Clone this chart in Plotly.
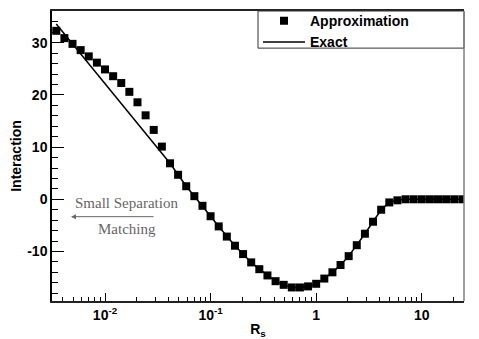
import plotly.graph_objects as go

# separation R_s, log spaced (13 points per decade)
r_s = [
    0.003455, 0.004125, 0.004924, 0.005878, 0.007017, 0.008377,
    0.01, 0.01194, 0.01425, 0.01701, 0.02031, 0.02424, 0.02894, 0.03455,
    0.04125, 0.04924, 0.05878, 0.07017, 0.08377,
    0.1, 0.1194, 0.1425, 0.1701, 0.2031, 0.2424, 0.2894, 0.3455,
    0.4125, 0.4924, 0.5878, 0.7017, 0.8377,
    1.0, 1.194, 1.425, 1.701, 2.031, 2.424, 2.894, 3.455,
    4.125, 4.924, 5.878, 7.017, 8.377,
    10.0, 11.94, 14.25, 17.01, 20.31, 24.24,
]

approximation = [
    32.3, 30.9, 29.8, 28.6, 27.4, 26.2,
    24.9, 23.6, 22.3, 20.6, 18.6, 16.1, 13.3, 10.1,
    6.9, 4.7, 2.5, 0.6, -1.25,
    -3.25, -5.2, -7.15, -8.9, -10.5, -12.1, -13.4, -14.6,
    -15.7, -16.4, -16.9, -16.9, -16.7,
    -16.2, -15.2, -14.0, -12.6, -10.9, -8.8, -6.6, -4.3,
    -2.0, -0.6, -0.2, 0.0, 0.0,
    0.0, 0.0, 0.0, 0.0, 0.0, 0.0,
]

exact = [
    33.6, 31.7, 29.8, 27.9, 26.0, 24.1,
    22.2, 20.3, 18.4, 16.4, 14.5, 12.6, 10.7, 8.8,
    6.9, 4.7, 2.5, 0.6, -1.25,
    -3.25, -5.2, -7.15, -8.9, -10.5, -12.1, -13.4, -14.6,
    -15.7, -16.4, -16.9, -16.9, -16.7,
    -16.2, -15.2, -14.0, -12.6, -10.9, -8.8, -6.6, -4.3,
    -2.0, -0.6, -0.2, 0.0, 0.0,
    0.0, 0.0, 0.0, 0.0, 0.0, 0.0,
]

x_tickvals = [0.01, 0.1, 1, 10]
x_ticktext = ["10<sup>-2</sup>", "10<sup>-1</sup>", "1", "10"]
x_minor = [m * 10.0 ** e for e in (-3, -2, -1, 0, 1) for m in range(2, 10)]
y_tickvals = [-10, 0, 10, 20, 30]
y_ticktext = ["-10", "0", "10", "20", "30"]
y_minor = list(range(-18, 36, 2))

SANS = "Liberation Sans"
bold = dict(family=SANS, size=14, weight="bold", color="black")

fig = go.Figure()
fig.add_trace(go.Scatter(
    x=r_s, y=exact, mode="lines", name="Exact",
    line=dict(color="black", width=1.5),
))
fig.add_trace(go.Scatter(
    x=r_s, y=approximation, mode="markers", name="Approximation",
    marker=dict(symbol="square", size=8, color="black"),
))

# legend frame (wider than plotly's own box)
fig.add_shape(type="rect", xref="paper", yref="paper",
              x0=0.5, x1=1.0, y0=0.872, y1=1.0,
              line=dict(color="#333", width=1), fillcolor="white", layer="above")
# grey right border
fig.add_shape(type="line", xref="paper", yref="paper",
              x0=1, x1=1, y0=0, y1=1,
              line=dict(color="#808080", width=1.5))

grey = "#666666"
serif = dict(family="Liberation Serif", size=15, color=grey)
fig.add_annotation(x=-1.796, y=-0.7, text="Small Separation", showarrow=False, font=serif)
fig.add_annotation(x=-1.79, y=-5.6, text="Matching", showarrow=False, font=serif)
fig.add_annotation(x=-2.322, y=-3.33, ax=-1.526, ay=-3.33, axref="x", ayref="y",
                   text="", showarrow=True, arrowhead=2, arrowsize=1,
                   arrowwidth=1, arrowcolor=grey)

fig.update_layout(
    width=479, height=339,
    margin=dict(l=52, r=15, t=11, b=38, autoexpand=False),
    paper_bgcolor="white", plot_bgcolor="white",
    showlegend=True,
    legend=dict(
        x=0.5, y=1.02, xanchor="left", yanchor="top",
        bgcolor="rgba(0,0,0,0)", borderwidth=0,
        font=bold, itemwidth=42, traceorder="reversed",
        tracegroupgap=0,
    ),
)
fig.update_xaxes(
    type="log", range=[-2.502, 1.40], automargin=False,
    tickvals=x_tickvals, ticktext=x_ticktext,
    ticks="inside", ticklen=8, tickcolor="black",
    minor=dict(tickvals=x_minor, ticks="inside", ticklen=4, tickcolor="black", showgrid=False),
    showline=True, linecolor="#222", linewidth=1.5, mirror=True,
    showgrid=False, zeroline=False,
    tickfont=bold,
    title=dict(text="R<sub>s</sub>", font=bold, standoff=4),
)
fig.update_yaxes(
    range=[-19.5, 36.1], automargin=False,
    tickvals=y_tickvals, ticktext=y_ticktext,
    ticks="inside", ticklen=12, tickcolor="black",
    minor=dict(tickvals=y_minor, ticks="inside", ticklen=6, tickcolor="black", showgrid=False),
    showline=True, linecolor="black", linewidth=1.5,
    showgrid=False, zeroline=False,
    tickfont=bold,
    title=dict(text="Interaction", font=bold, standoff=2),
)

# drop the browser's default 8px body margin so the figure sits at the page corner
fig.write_html(
    "out.html",
    config={"displayModeBar": False},
    post_script="document.body.style.margin='0';",
)
